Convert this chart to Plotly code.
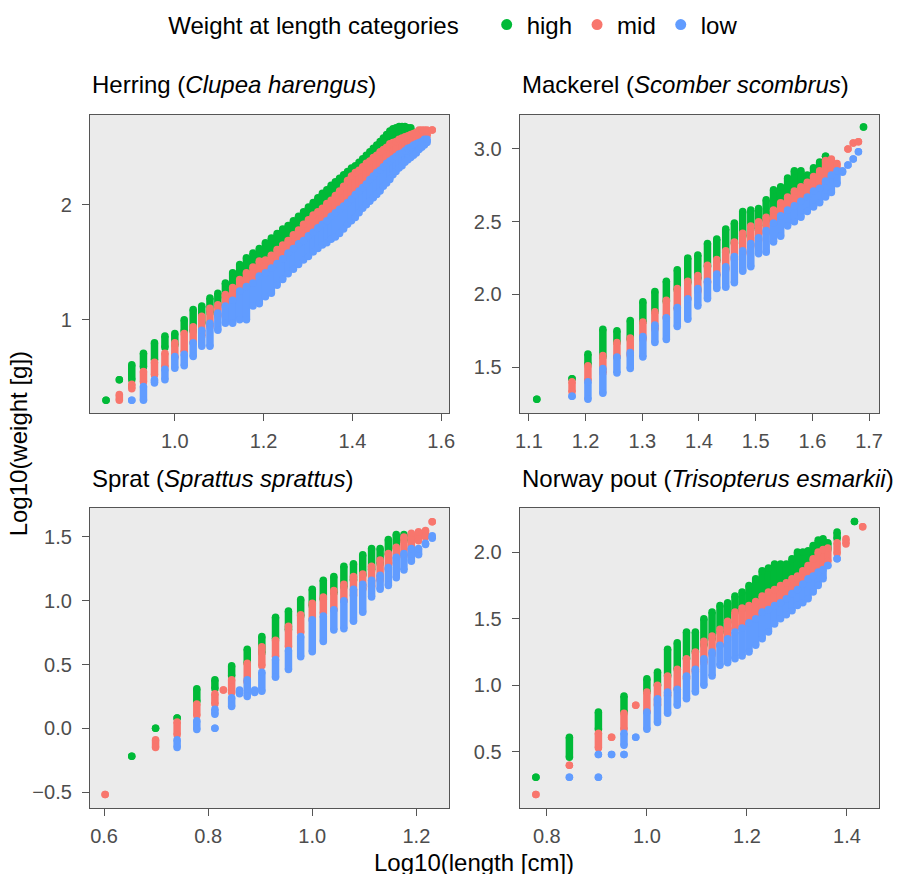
import math
import plotly.graph_objects as go

# Weight-at-length observations, grouped by length class.
# Each entry: (length class in cm, min log10 weight, max log10 weight)
# for all fish of that length class within the category.

herring_high = [
    (7, 0.30, 0.30), (7.5, 0.48, 0.48), (8, 0.48, 0.61), (8.5, 0.59, 0.71),
    (9, 0.65, 0.80), (9.5, 0.76, 0.86), (10, 0.78, 0.88), (10.5, 0.90, 1.00),
    (11, 0.90, 1.09), (11.5, 0.97, 1.12), (12, 1.06, 1.19), (12.5, 1.12, 1.23),
    (13, 1.19, 1.32), (13.5, 1.26, 1.41), (14, 1.32, 1.48), (14.5, 1.38, 1.54),
    (15, 1.43, 1.58), (15.5, 1.48, 1.62), (16, 1.50, 1.67), (16.5, 1.54, 1.71),
    (17, 1.58, 1.75), (17.5, 1.62, 1.79), (18, 1.66, 1.82), (18.5, 1.71, 1.86),
    (19, 1.75, 1.90), (19.5, 1.79, 1.94), (20, 1.83, 1.98), (20.5, 1.87, 2.02),
    (21, 1.90, 2.06), (21.5, 1.93, 2.10), (22, 1.96, 2.13), (22.5, 2.00, 2.17),
    (23, 2.04, 2.20), (23.5, 2.08, 2.23), (24, 2.12, 2.26), (24.5, 2.16, 2.29),
    (25, 2.20, 2.32), (25.5, 2.23, 2.34), (26, 2.26, 2.37), (26.5, 2.29, 2.40),
    (27, 2.31, 2.43), (27.5, 2.34, 2.46), (28, 2.36, 2.49), (28.5, 2.39, 2.52),
    (29, 2.41, 2.55), (29.5, 2.44, 2.58), (30, 2.46, 2.61), (30.5, 2.48, 2.64),
    (31, 2.50, 2.66), (31.5, 2.51, 2.67), (32, 2.52, 2.68), (32.5, 2.53, 2.68),
    (33, 2.55, 2.68), (33.5, 2.56, 2.67), (34, 2.57, 2.67),
]
herring_mid = [
    (7.5, 0.30, 0.35), (8, 0.40, 0.44), (8.5, 0.46, 0.55), (9, 0.52, 0.63),
    (9.5, 0.59, 0.71), (10, 0.67, 0.80), (10.5, 0.72, 0.88), (11, 0.80, 0.94),
    (11.5, 0.86, 1.03), (12, 0.94, 1.10), (12.5, 1.03, 1.13), (13, 1.09, 1.22),
    (13.5, 1.14, 1.28), (14, 1.20, 1.35), (14.5, 1.25, 1.41), (15, 1.29, 1.46),
    (15.5, 1.35, 1.51), (16, 1.38, 1.52), (16.5, 1.42, 1.56), (17, 1.47, 1.61),
    (17.5, 1.51, 1.65), (18, 1.55, 1.69), (18.5, 1.59, 1.74), (19, 1.63, 1.78),
    (19.5, 1.67, 1.83), (20, 1.70, 1.87), (20.5, 1.73, 1.91), (21, 1.77, 1.94),
    (21.5, 1.80, 1.97), (22, 1.83, 2.01), (22.5, 1.87, 2.04), (23, 1.90, 2.08),
    (23.5, 1.93, 2.12), (24, 1.96, 2.16), (24.5, 1.99, 2.21), (25, 2.02, 2.25),
    (25.5, 2.06, 2.28), (26, 2.09, 2.30), (26.5, 2.12, 2.33), (27, 2.15, 2.36),
    (27.5, 2.19, 2.38), (28, 2.22, 2.41), (28.5, 2.25, 2.43), (29, 2.27, 2.46),
    (29.5, 2.30, 2.48), (30, 2.33, 2.50), (30.5, 2.35, 2.53), (31, 2.37, 2.54),
    (31.5, 2.39, 2.55), (32, 2.41, 2.57), (32.5, 2.42, 2.58), (33, 2.44, 2.59),
    (33.5, 2.46, 2.60), (34, 2.47, 2.61), (34.5, 2.49, 2.62), (35, 2.50, 2.63),
    (35.5, 2.51, 2.65), (36, 2.52, 2.65), (36.5, 2.54, 2.65), (37, 2.60, 2.65),
    (38, 2.65, 2.65),
]
herring_low = [
    (8, 0.30, 0.30), (8.5, 0.30, 0.42), (9, 0.45, 0.48), (9.5, 0.48, 0.57),
    (10, 0.58, 0.68), (10.5, 0.60, 0.70), (11, 0.68, 0.80), (11.5, 0.77, 0.91),
    (12, 0.77, 0.97), (12.5, 0.91, 1.06), (13, 0.97, 1.12), (13.5, 0.97, 1.17),
    (14, 1.00, 1.25), (14.5, 1.00, 1.29), (15, 1.12, 1.32), (15.5, 1.14, 1.38),
    (16, 1.20, 1.41), (16.5, 1.23, 1.45), (17, 1.30, 1.49), (17.5, 1.35, 1.53),
    (18, 1.40, 1.58), (18.5, 1.44, 1.62), (19, 1.48, 1.66), (19.5, 1.52, 1.69),
    (20, 1.55, 1.73), (20.5, 1.59, 1.76), (21, 1.62, 1.80), (21.5, 1.65, 1.83),
    (22, 1.67, 1.86), (22.5, 1.70, 1.90), (23, 1.72, 1.93), (23.5, 1.75, 1.96),
    (24, 1.79, 1.99), (24.5, 1.83, 2.02), (25, 1.86, 2.05), (25.5, 1.89, 2.09),
    (26, 1.93, 2.12), (26.5, 1.97, 2.15), (27, 2.00, 2.18), (27.5, 2.03, 2.22),
    (28, 2.06, 2.25), (28.5, 2.09, 2.28), (29, 2.12, 2.30), (29.5, 2.16, 2.33),
    (30, 2.19, 2.36), (30.5, 2.22, 2.38), (31, 2.26, 2.40), (31.5, 2.29, 2.42),
    (32, 2.32, 2.44), (32.5, 2.34, 2.45), (33, 2.37, 2.47), (33.5, 2.39, 2.49),
    (34, 2.41, 2.50), (34.5, 2.43, 2.52), (35, 2.45, 2.53), (35.5, 2.48, 2.54),
    (36, 2.50, 2.55), (36.5, 2.52, 2.57), (37, 2.54, 2.57),
]

mackerel_high = [
    (13, 1.28, 1.28), (15, 1.42, 1.42), (16, 1.52, 1.59), (17, 1.57, 1.76),
    (18, 1.67, 1.75), (19, 1.69, 1.82), (20, 1.81, 1.95), (21, 1.88, 2.02),
    (22, 1.95, 2.09), (23, 2.03, 2.17), (24, 2.08, 2.25), (25, 2.11, 2.27),
    (26, 2.19, 2.35), (27, 2.23, 2.38), (28, 2.29, 2.45), (29, 2.35, 2.49),
    (30, 2.40, 2.57), (31, 2.45, 2.58), (32, 2.47, 2.59), (33, 2.51, 2.65),
    (34, 2.56, 2.72), (35, 2.61, 2.74), (36, 2.65, 2.80), (37, 2.70, 2.85),
    (38, 2.72, 2.85), (39, 2.72, 2.82), (40, 2.77, 2.87), (41, 2.80, 2.91),
    (42, 2.95, 2.95), (49, 3.15, 3.15),
]
mackerel_mid = [
    (15, 1.33, 1.40), (16, 1.41, 1.51), (17, 1.46, 1.58), (18, 1.57, 1.67),
    (19, 1.58, 1.70), (20, 1.69, 1.81), (21, 1.76, 1.88), (22, 1.84, 1.96),
    (23, 1.90, 2.04), (24, 1.97, 2.09), (25, 2.02, 2.13), (26, 2.08, 2.20),
    (27, 2.13, 2.24), (28, 2.17, 2.30), (29, 2.24, 2.36), (30, 2.28, 2.42),
    (31, 2.33, 2.47), (32, 2.37, 2.50), (33, 2.42, 2.53), (34, 2.47, 2.58),
    (35, 2.52, 2.63), (36, 2.56, 2.67), (37, 2.60, 2.71), (38, 2.63, 2.74),
    (39, 2.66, 2.77), (40, 2.69, 2.81), (41, 2.73, 2.85), (42, 2.77, 2.92),
    (43, 2.80, 2.93), (44, 2.84, 2.90), (46, 3.00, 3.00), (47, 3.04, 3.04),
    (48, 3.05, 3.05),
]
mackerel_low = [
    (15, 1.30, 1.30), (16, 1.28, 1.40), (17, 1.32, 1.49), (18, 1.46, 1.57),
    (19, 1.49, 1.60), (20, 1.57, 1.71), (21, 1.67, 1.79), (22, 1.69, 1.84),
    (23, 1.78, 1.91), (24, 1.83, 1.97), (25, 1.92, 2.04), (26, 1.97, 2.09),
    (27, 2.04, 2.14), (28, 2.05, 2.19), (29, 2.08, 2.26), (30, 2.16, 2.30),
    (31, 2.19, 2.35), (32, 2.28, 2.39), (33, 2.29, 2.44), (34, 2.36, 2.49),
    (35, 2.40, 2.54), (36, 2.47, 2.58), (37, 2.50, 2.61), (38, 2.53, 2.64),
    (39, 2.57, 2.67), (40, 2.60, 2.71), (41, 2.63, 2.73), (42, 2.67, 2.78),
    (43, 2.70, 2.82), (44, 2.76, 2.85), (45, 2.84, 2.85), (46, 2.89, 2.89),
    (47, 2.93, 2.93), (48, 2.98, 2.98),
]

sprat_high = [
    (4.5, -0.22, -0.22), (5, 0.00, 0.00), (5.5, 0.08, 0.08), (6, 0.21, 0.31),
    (6.5, 0.31, 0.38), (7, 0.41, 0.49), (7.5, 0.51, 0.62), (8, 0.59, 0.72),
    (8.5, 0.70, 0.87), (9, 0.77, 0.92), (9.5, 0.88, 1.01), (10, 0.96, 1.09),
    (10.5, 1.01, 1.16), (11, 1.06, 1.19), (11.5, 1.11, 1.27), (12, 1.16, 1.29),
    (12.5, 1.20, 1.36), (13, 1.24, 1.41), (13.5, 1.29, 1.41), (14, 1.36, 1.48),
    (14.5, 1.41, 1.52), (15, 1.47, 1.52),
]
sprat_mid = [
    (4, -0.52, -0.52), (5, -0.15, -0.09), (5.5, -0.05, 0.05), (6, 0.10, 0.19),
    (6.5, 0.19, 0.27), (6.75, 0.30, 0.30), (7, 0.28, 0.38), (7.5, 0.36, 0.51),
    (8, 0.49, 0.64), (8.5, 0.56, 0.69), (9, 0.64, 0.80), (9.5, 0.75, 0.89),
    (10, 0.85, 0.98), (10.5, 0.90, 1.03), (11, 0.93, 1.08), (11.5, 1.00, 1.13),
    (12, 1.04, 1.19), (12.5, 1.09, 1.21), (13, 1.11, 1.27), (13.5, 1.16, 1.32),
    (14, 1.24, 1.37), (14.5, 1.29, 1.42), (15, 1.35, 1.50), (15.5, 1.40, 1.53),
    (16, 1.47, 1.54), (16.5, 1.50, 1.55), (17, 1.62, 1.62),
]
sprat_low = [
    (5.5, -0.15, -0.09), (6, -0.01, 0.06), (6.5, 0.00, 0.00), (6.5, 0.11, 0.15),
    (7, 0.17, 0.24), (7.25, 0.27, 0.30), (7.5, 0.25, 0.38), (7.75, 0.28, 0.30),
    (8, 0.29, 0.44), (8.5, 0.40, 0.54), (9, 0.46, 0.61), (9.5, 0.56, 0.72),
    (10, 0.60, 0.85), (10.5, 0.68, 0.88), (11, 0.77, 0.93), (11.5, 0.78, 1.00),
    (12, 0.84, 1.09), (12.5, 0.91, 1.13), (13, 1.03, 1.16), (13.5, 1.09, 1.20),
    (14, 1.12, 1.26), (14.5, 1.18, 1.34), (15, 1.24, 1.37), (15.5, 1.31, 1.41),
    (16, 1.36, 1.41), (16.5, 1.44, 1.45), (17, 1.49, 1.51),
]

pout_high = [
    (6, 0.31, 0.31), (7, 0.46, 0.61), (8, 0.67, 0.80), (9, 0.80, 0.92),
    (10, 0.95, 1.05), (10.5, 1.00, 1.10), (11, 1.07, 1.27), (11.5, 1.12, 1.32),
    (12, 1.20, 1.40), (12.5, 1.25, 1.40), (13, 1.30, 1.50), (13.5, 1.35, 1.55),
    (14, 1.40, 1.60), (14.5, 1.47, 1.62), (15, 1.55, 1.67), (15.5, 1.57, 1.70),
    (16, 1.60, 1.75), (16.5, 1.62, 1.80), (17, 1.65, 1.86), (17.5, 1.67, 1.88),
    (18, 1.70, 1.91), (18.5, 1.72, 1.91), (19, 1.75, 1.91), (19.5, 1.77, 1.95),
    (20, 1.80, 2.00), (20.5, 1.81, 2.00), (21, 1.82, 2.01), (21.5, 1.90, 2.05),
    (22, 2.00, 2.09), (22.5, 2.02, 2.10), (23, 2.02, 2.07), (24, 2.10, 2.15),
    (26, 2.23, 2.23),
]
pout_mid = [
    (6, 0.18, 0.18), (7, 0.40, 0.40), (8, 0.53, 0.64), (8.5, 0.61, 0.61),
    (9, 0.67, 0.79), (9.5, 0.85, 0.85), (10, 0.80, 0.95), (10.5, 0.85, 1.00),
    (11, 0.92, 1.07), (11.5, 0.97, 1.12), (12, 1.05, 1.20), (12.5, 1.10, 1.25),
    (13, 1.17, 1.33), (13.5, 1.23, 1.37), (14, 1.30, 1.42), (14.5, 1.36, 1.48),
    (15, 1.42, 1.55), (15.5, 1.44, 1.58), (16, 1.47, 1.60), (16.5, 1.50, 1.63),
    (17, 1.52, 1.67), (17.5, 1.55, 1.70), (18, 1.57, 1.72), (18.5, 1.60, 1.75),
    (19, 1.63, 1.77), (19.5, 1.66, 1.80), (20, 1.68, 1.82), (20.5, 1.72, 1.86),
    (21, 1.76, 1.90), (21.5, 1.81, 1.95), (22, 1.86, 2.00), (22.5, 1.90, 2.02),
    (23, 1.93, 2.03), (24, 1.99, 2.07), (25, 2.06, 2.10), (27, 2.19, 2.19),
]
pout_low = [
    (7, 0.31, 0.31), (8, 0.31, 0.31), (8, 0.48, 0.48), (8.5, 0.48, 0.48),
    (9, 0.48, 0.48), (9, 0.55, 0.64), (9.5, 0.61, 0.61), (10, 0.67, 0.80),
    (10.5, 0.72, 0.90), (11, 0.79, 0.95), (11.5, 0.85, 0.97), (12, 0.90, 1.07),
    (12.5, 0.95, 1.12), (13, 1.00, 1.20), (13.5, 1.07, 1.25), (14, 1.15, 1.30),
    (14.5, 1.17, 1.35), (15, 1.20, 1.40), (15.5, 1.22, 1.43), (16, 1.25, 1.47),
    (16.5, 1.30, 1.50), (17, 1.35, 1.55), (17.5, 1.40, 1.57), (18, 1.46, 1.60),
    (18.5, 1.50, 1.62), (19, 1.53, 1.65), (19.5, 1.56, 1.69), (20, 1.60, 1.72),
    (20.5, 1.62, 1.76), (21, 1.65, 1.80), (21.5, 1.70, 1.82), (22, 1.75, 1.85),
    (22.5, 1.80, 1.87), (23, 1.90, 1.90), (24, 1.95, 1.95),
]

categories = ["high", "mid", "low"]
category_colors = {"high": "#00BA38", "mid": "#F8766D", "low": "#619CFF"}

panels = [
    # (title html, series by category, x ticks, y ticks, x range, y range,
    #  x tick format, y tick format)
    ("Herring (<i>Clupea harengus</i>)",
     {"high": herring_high, "mid": herring_mid, "low": herring_low},
     [1.0, 1.2, 1.4, 1.6], [1, 2], [0.809, 1.618], [0.19, 2.78], ".1f", "d"),
    ("Mackerel (<i>Scomber scombrus</i>)",
     {"high": mackerel_high, "mid": mackerel_mid, "low": mackerel_low},
     [1.1, 1.2, 1.3, 1.4, 1.5, 1.6, 1.7], [1.5, 2.0, 2.5, 3.0],
     [1.084, 1.7175], [1.185, 3.233], ".1f", ".1f"),
    ("Sprat (<i>Sprattus sprattus</i>)",
     {"high": sprat_high, "mid": sprat_mid, "low": sprat_low},
     [0.6, 0.8, 1.0, 1.2], [-0.5, 0.0, 0.5, 1.0, 1.5],
     [0.573, 1.263], [-0.625, 1.727], ".1f", ".1f"),
    ("Norway pout (<i>Trisopterus esmarkii</i>)",
     {"high": pout_high, "mid": pout_mid, "low": pout_low},
     [0.8, 1.0, 1.2, 1.4], [0.5, 1.0, 1.5, 2.0],
     [0.746, 1.464], [0.079, 2.331], ".1f", ".1f"),
]

# Page geometry (pixels)
W, H = 897, 874
M_L, M_R, M_T, M_B = 90, 14, 115, 66
PW = W - M_L - M_R
PH = H - M_T - M_B
x_domains = [[0, 361 / PW], [432 / PW, 1]]
y_domains = [[(H - M_B - 413) / PH, 1], [0, 300 / PH]]

FONT = "Liberation Sans, Arial, sans-serif"
DOT = 7.5

fig = go.Figure()
layout = {}
annotations = []

for i, (title, series, xt, yt, xr, yr, xfmt, yfmt) in enumerate(panels):
    row, col = divmod(i, 2)
    sfx = "" if i == 0 else str(i + 1)
    xa, ya = "x" + sfx, "y" + sfx
    for cat in categories:
        # one vertical run of points per length class, min to max weight
        xs, ys = [], []
        for length, lo, hi in series[cat]:
            lx = math.log10(length)
            xs += [lx, lx, None]
            ys += [lo, hi, None]
        fig.add_trace(go.Scatter(
            x=xs, y=ys, xaxis=xa, yaxis=ya, mode="lines+markers",
            line=dict(color=category_colors[cat], width=DOT),
            marker=dict(color=category_colors[cat], size=DOT),
            showlegend=False, hoverinfo="skip", connectgaps=False,
        ))
    axis_common = dict(
        showline=True, mirror=True, linecolor="#555555", linewidth=1.3,
        ticks="outside", ticklen=7, tickwidth=1.1, tickcolor="#555555",
        showgrid=False, zeroline=False,
        tickfont=dict(family=FONT, size=20, color="#4D4D4D"),
    )
    layout["xaxis" + sfx] = dict(
        axis_common, domain=x_domains[col], anchor=ya, range=xr,
        tickvals=xt, tickformat=xfmt, ticklabelstandoff=3,
    )
    layout["yaxis" + sfx] = dict(
        axis_common, domain=y_domains[row], anchor=xa, range=yr,
        tickvals=yt, tickformat=yfmt, ticklabelstandoff=6,
    )
    title_y = 1 + (115 - 84) / PH if row == 0 else (808 - 478) / PH
    annotations.append(dict(
        text=title, xref="paper", yref="paper", x=x_domains[col][0],
        y=title_y, xanchor="left", yanchor="middle", showarrow=False,
        font=dict(family=FONT, size=24, color="black"),
    ))

# Legend entries (markers only)
for cat in categories:
    fig.add_trace(go.Scatter(
        x=[None], y=[None], mode="markers", name=cat,
        marker=dict(color=category_colors[cat], size=11),
        showlegend=True,
    ))

annotations.append(dict(
    text="Log10(length [cm])", xref="paper", yref="paper",
    x=(476 - M_L) / PW, y=(H - M_B - 862) / PH, xanchor="center",
    yanchor="middle", showarrow=False,
    font=dict(family=FONT, size=24, color="black"),
))
annotations.append(dict(
    text="Log10(weight [g])", xref="paper", yref="paper",
    x=(19 - M_L) / PW, y=(H - M_B - 444) / PH, xanchor="center",
    yanchor="middle", textangle=-90, showarrow=False,
    font=dict(family=FONT, size=24, color="black"),
))

fig.update_layout(
    **layout,
    annotations=annotations,
    width=W, height=H,
    margin=dict(l=M_L, r=M_R, t=M_T, b=M_B),
    paper_bgcolor="white", plot_bgcolor="#EBEBEB",
    font=dict(family=FONT, size=24, color="black"),
    legend=dict(
        orientation="h", xref="container", yref="container",
        x=0.507, xanchor="center", y=1 - 25 / H, yanchor="middle",
        title=dict(text="Weight at length categories   ", side="left",
                   font=dict(family=FONT, size=24, color="black")),
        font=dict(family=FONT, size=24, color="black"),
        itemwidth=30, tracegroupgap=0,
    ),
)

fig.write_html("out.html")
